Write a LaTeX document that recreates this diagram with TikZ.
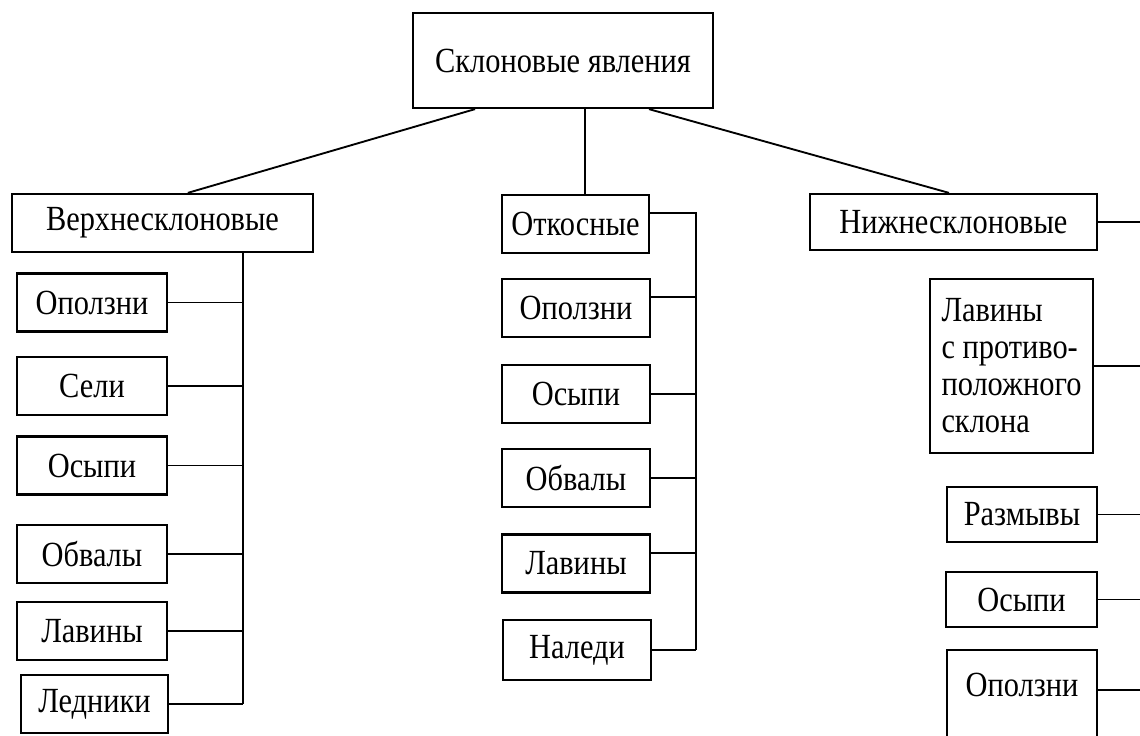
\documentclass[tikz,border=0pt]{standalone}
\usepackage{fontspec}
\setmainfont{Liberation Serif}[FakeStretch=0.86]
\begin{document}
\begin{tikzpicture}[x=0.75pt,y=-0.75pt,
  box/.style={draw, line width=1.7pt, inner sep=0pt, font=\fontsize{26.5}{27.75}\selectfont},
  conn/.style={line width=1.4pt}]
\useasboundingbox (0,0) rectangle (1140,736);
\clip (0,0) rectangle (1140,736);
\coordinate (barL) at (243,0);
\coordinate (barM) at (696,0);
\coordinate (edge) at (1141,0);
% level 0 and 1
\node[box, minimum width=225pt, minimum height=71.25pt] (top) at (563,60.5) {Склоновые явления};
\node[box, minimum width=225.75pt, minimum height=43.5pt] (verh) at (162.5,223) {Верхнесклоновые};
\node[box, minimum width=110.25pt, minimum height=43.5pt] (otk) at (575.5,224) {Откосные};
\node[box, minimum width=215.25pt, minimum height=42pt] (nizh) at (953.5,222) {Нижнесклоновые};
% left column
\node[box, minimum width=112.5pt, minimum height=43.5pt] (l1) at (92,302.5) {Оползни};
\node[box, minimum width=112.5pt, minimum height=43.5pt] (l2) at (92,386) {Сели};
\node[box, minimum width=112.5pt, minimum height=43.5pt] (l3) at (92,465.5) {Осыпи};
\node[box, minimum width=112.5pt, minimum height=43.5pt] (l4) at (92,554) {Обвалы};
\node[box, minimum width=112.5pt, minimum height=43.5pt] (l5) at (92,631) {Лавины};
\node[box, minimum width=110.25pt, minimum height=43.5pt] (l6) at (94.5,704) {Ледники};
% middle column
\node[box, minimum width=111pt, minimum height=43.5pt] (m1) at (576,308) {Оползни};
\node[box, minimum width=111pt, minimum height=43.5pt] (m2) at (576,394) {Осыпи};
\node[box, minimum width=111pt, minimum height=43.5pt] (m3) at (576,478) {Обвалы};
\node[box, minimum width=111pt, minimum height=43.5pt] (m4) at (576,563.5) {Лавины};
\node[box, minimum width=111pt, minimum height=45pt] (m5) at (577,650) {Наледи};
% right column
\node[box, minimum width=122.25pt, minimum height=130.5pt, align=left] (r1) at (1011.5,366) {Лавины\\с противо-\\положного\\склона};
\node[box, minimum width=112.5pt, minimum height=41.25pt] (r2) at (1022,514.5) {Размывы};
\node[box, minimum width=113.25pt, minimum height=41.25pt] (r3) at (1021.5,599.5) {Осыпи};
\node[box, minimum width=112.5pt, minimum height=67.5pt, text height=18pt, text depth=16pt] (r4) at (1022,695) {Оползни};
% top connectors
\draw[conn] ([xshift=-66pt]top.south) -- ([xshift=19pt]verh.north);
\draw[conn] ([xshift=7pt]otk.north) -- ([xshift=7pt]otk.north |- top.south);
\draw[conn] ([xshift=64.5pt]top.south) -- ([xshift=-3.4pt]nizh.north);
% left bar
\draw[conn] (barL |- verh.south) -- (barL |- l6.east);
\foreach \n in {l1,l2,l3,l4,l5,l6} \draw[conn] (\n.east) -- (\n.east -| barL);
% middle bar
\draw[conn] ([yshift=8pt]otk.east) -- ([yshift=8pt]otk.east -| barM) -- (barM |- m5.east);
\draw[conn] ([yshift=8pt]m1.east) -- ([yshift=8pt]m1.east -| barM);
\foreach \n in {m2,m3,m5} \draw[conn] (\n.east) -- (\n.east -| barM);
\draw[conn] ([yshift=8pt]m4.east) -- ([yshift=8pt]m4.east -| barM);
% right connectors to the edge
\foreach \n in {nizh,r1,r2,r3} \draw[conn] (\n.east) -- (\n.east -| edge);
\draw[conn] ([yshift=4pt]r4.east) -- ([yshift=4pt]r4.east -| edge);
\end{tikzpicture}
\end{document}
